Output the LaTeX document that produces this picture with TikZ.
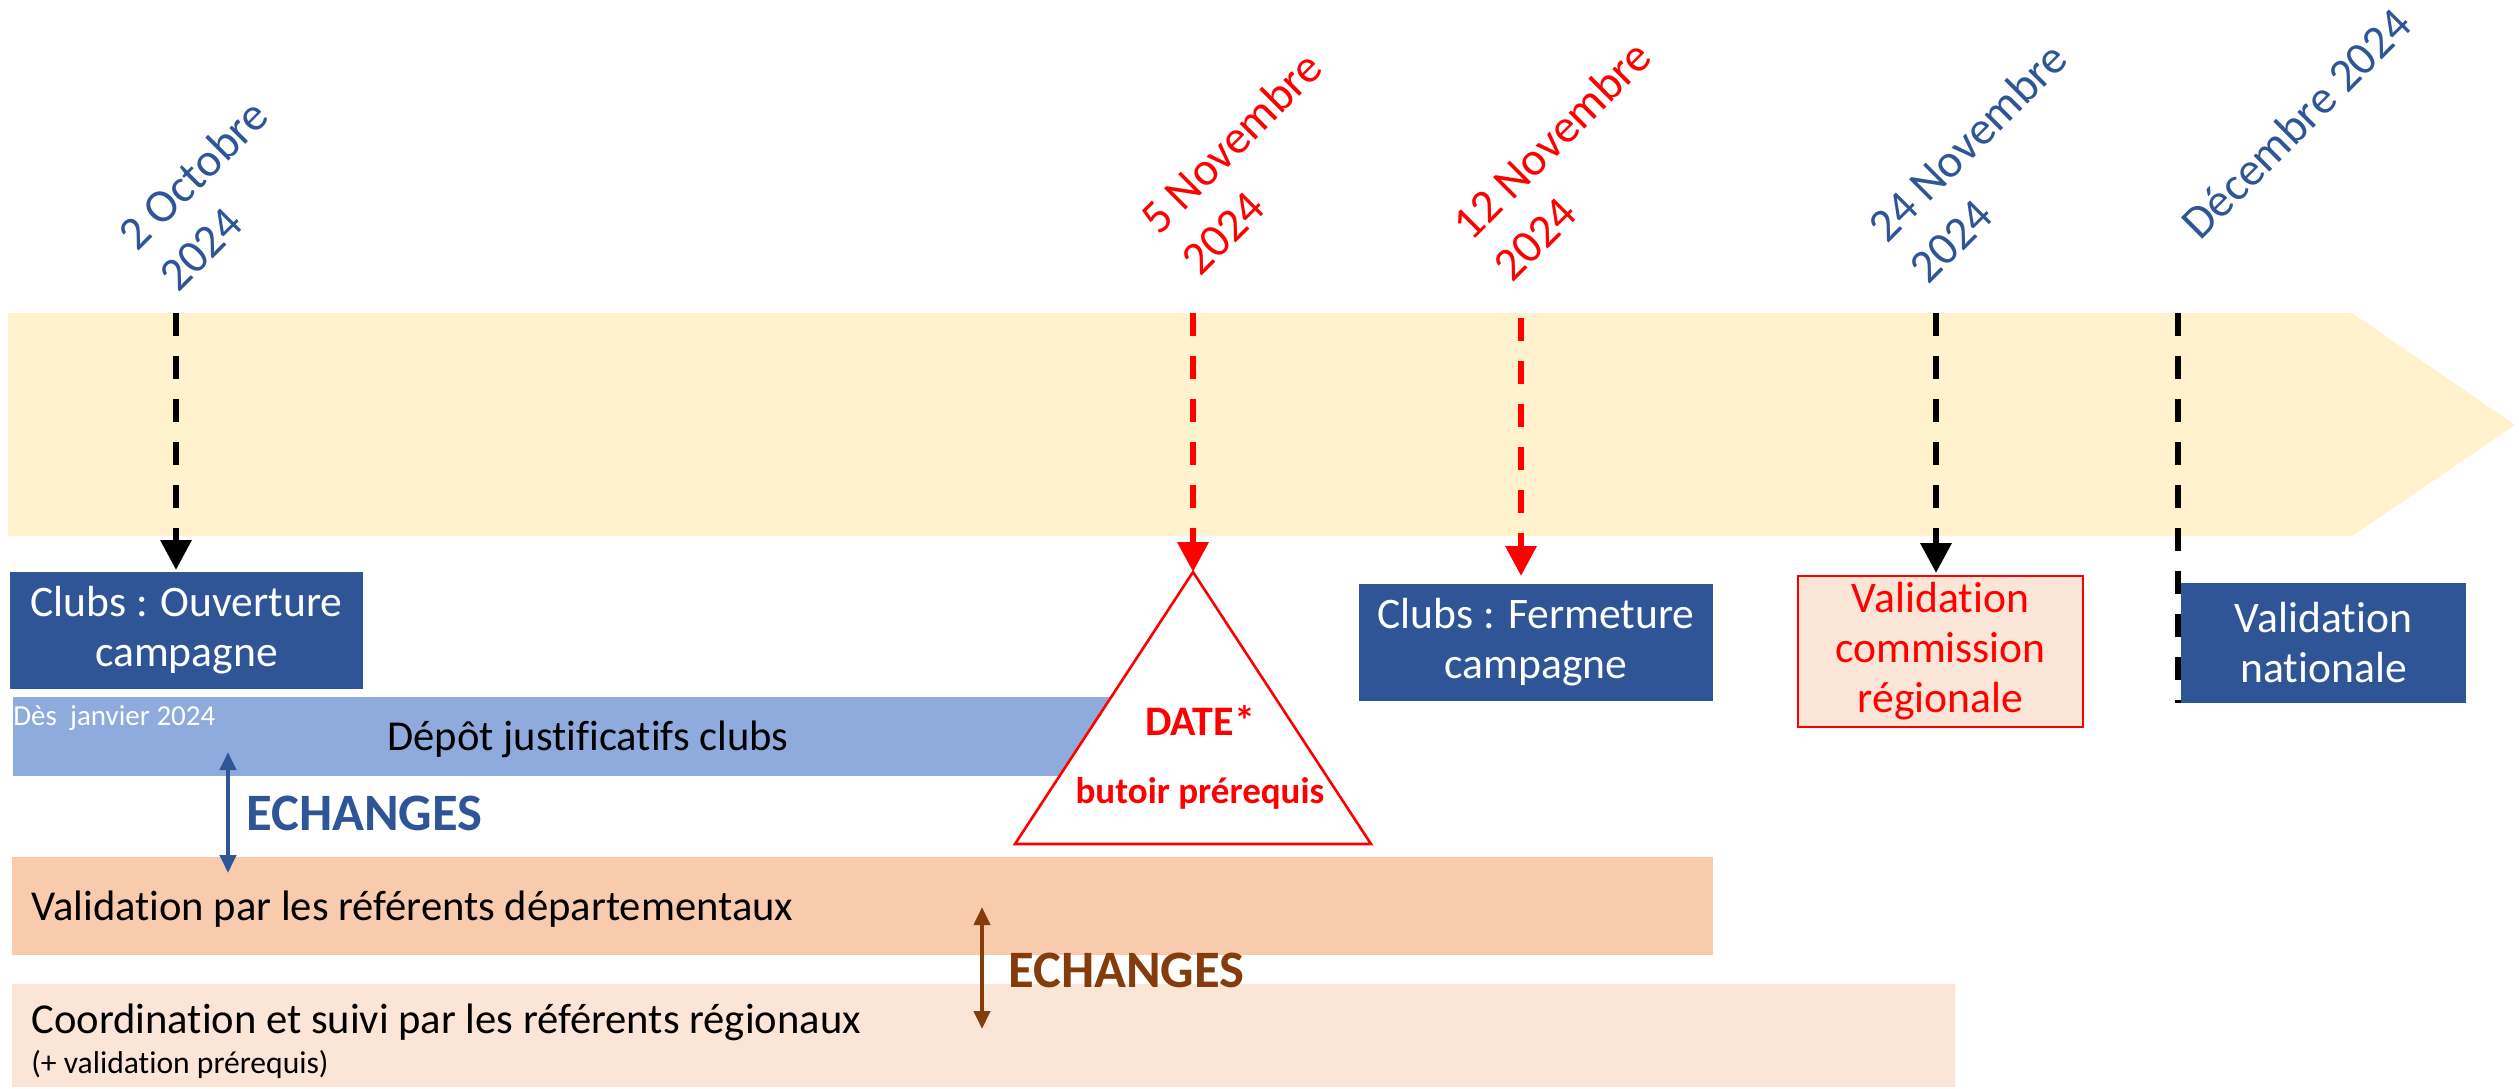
\documentclass[tikz,border=0pt]{standalone}
\usepackage{fontspec}
\setmainfont{Carlito}[Ligatures=NoCommon]
\usetikzlibrary{arrows.meta}
\definecolor{dblue}{HTML}{2F5597}
\definecolor{bandc}{HTML}{FFF2CC}
\definecolor{depotc}{HTML}{8FAADC}
\definecolor{deptc}{HTML}{F8CBAD}
\definecolor{regc}{HTML}{FBE5D6}
\definecolor{brownc}{HTML}{843C0C}
\definecolor{redc}{HTML}{FF0000}
\begin{document}
\begin{tikzpicture}[x=0.5pt,y=-0.5pt,
  datelbl/.style={rotate=45,anchor=base west,inner sep=0pt,align=left,font=\fontsize{23.5}{29}\selectfont},
  milestone/.style={line width=3.25pt,dash pattern=on 11.5pt off 10pt},
  mtip/.style={-{Triangle[length=15pt,width=15pt]}},
  bluebox/.style={fill=dblue,text=white,align=center,inner sep=0pt,font=\fontsize{21.8}{25}\selectfont},
  lbl/.style={inner sep=0pt,anchor=base west},
  xch/.style={line width=2pt,{Triangle[length=9pt,width=8pt]}-{Triangle[length=9pt,width=8pt]}},
  xchtxt/.style={lbl,font=\fontsize{26.3}{30}\selectfont\bfseries},
]
\useasboundingbox (0,0) rectangle (2519,1088);

% timeline band
\fill[bandc] (8,313) -- (2352,313) -- (2515,425) -- (2352,536) -- (8,536) -- cycle;

% bars
\fill[depotc] (13,697) rectangle (1150,776);
\fill[deptc] (12,857) rectangle (1713,955);
\fill[regc] (12,984) rectangle (1955,1087);

% deadline triangle
\coordinate (apex) at (1193,572);
\coordinate (bl) at (1015,844);
\coordinate (br) at (1371,844);
\draw[redc, line width=1.3pt, fill=white] (apex) -- (bl) -- (br) -- cycle;
\node[inner sep=0pt, anchor=base, text=redc, font=\fontsize{21}{24}\selectfont\bfseries] (date) at (1200,735) {DATE*};
\node[inner sep=0pt, anchor=base, text=redc, font=\fontsize{18.5}{22}\selectfont\bfseries] (butoir) at (1200,803) {butoir prérequis};

% boxes
\node[bluebox, minimum width=176.5pt, minimum height=58.5pt] (ouv) at (186.5,630.5) {Clubs : Ouverture\\campagne};
\node[bluebox, minimum width=177pt, minimum height=58.5pt] (ferm) at (1536,642.5) {Clubs : Fermeture\\campagne};
\node[draw=redc, line width=1.25pt, fill=regc, text=redc, align=center, inner sep=0pt,
      minimum width=142.5pt, minimum height=75.5pt, font=\fontsize{21.8}{25}\selectfont] (comm) at (1940.5,651.5) {Validation\\commission\\régionale};
\node[bluebox, minimum width=142.5pt, minimum height=60pt] (nat) at (2323.5,643) {Validation\\nationale};

% bar texts
\node[lbl, text=white, font=\fontsize{14.5}{17}\selectfont] (des) at (13,725) {Dès\ \ janvier 2024};
\node[inner sep=0pt, anchor=base, font=\fontsize{21.3}{25}\selectfont] (depot) at (588,750) {Dépôt justificatifs clubs};
\node[lbl, font=\fontsize{21.3}{25}\selectfont] (dept) at (31,920) {Validation par les référents départementaux};
\node[lbl, font=\fontsize{21.3}{25}\selectfont] (coord) at (31,1033) {Coordination et suivi par les référents régionaux};
\node[lbl, font=\fontsize{15.8}{18}\selectfont] (coordb) at (31,1073) {(+ validation prérequis)};

% exchanges
\coordinate (xa1) at (228,752);
\coordinate (xa2) at (228,873);
\draw[xch, dblue] (xa1) -- (xa2);
\node[xchtxt, text=dblue] (xt1) at (246,830) {ECHANGES};
\coordinate (xb1) at (982,907);
\coordinate (xb2) at (982,1029);
\draw[xch, brownc] (xb1) -- (xb2);
\node[xchtxt, text=brownc] (xt2) at (1008,987) {ECHANGES};

% milestone lines
\coordinate (m1t) at (176,313);  \coordinate (m1b) at (176,570);
\coordinate (m2t) at (1193,313);
\coordinate (m3t) at (1521,318); \coordinate (m3b) at (1521,576);
\coordinate (m4t) at (1936,313); \coordinate (m4b) at (1936,573);
\coordinate (m5t) at (2178,313); \coordinate (m5b) at (2178,703);
\draw[milestone, mtip, black] (m1t) -- (m1b);
\draw[milestone, mtip, redc] (m2t) -- (apex);
\draw[milestone, mtip, redc] (m3t) -- (m3b);
\draw[milestone, mtip, black] (m4t) -- (m4b);
\draw[milestone, black] (m5t) -- (m5b);

% date labels (anchor = baseline start of the last line)
\node[datelbl, text=dblue] (d1) at (178,294) {2 Octobre\\2024};
\node[datelbl, text=redc] (d2) at (1200,278) {5 Novembre\\2024};
\node[datelbl, text=redc] (d3) at (1512,284) {12 Novembre\\2024};
\node[datelbl, text=dblue] (d4) at (1928,286) {24 Novembre\\2024};
\node[datelbl, text=dblue] (d5) at (2200,242) {Décembre 2024};
\end{tikzpicture}
\end{document}
